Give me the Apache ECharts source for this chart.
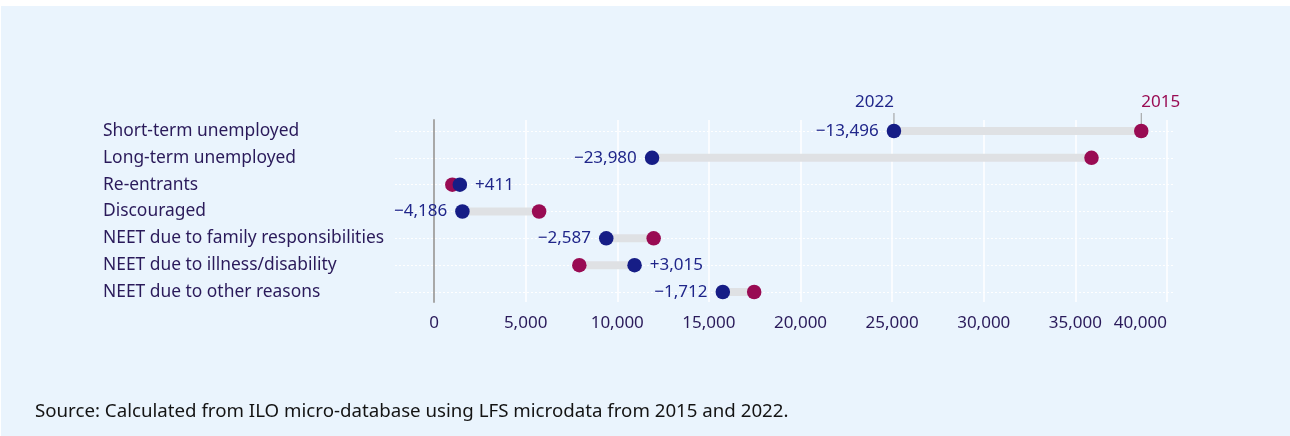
<!DOCTYPE html>
<html>
<head>
<meta charset="utf-8">
<script src="https://cdn.jsdelivr.net/npm/echarts@6/dist/echarts.min.js"></script>
<style>
html,body{margin:0;padding:0;background:#ffffff;}
#bg{position:absolute;left:1px;top:6px;right:0;bottom:0;background:#EAF4FD;}
#chart{position:absolute;left:0;top:0;width:1290px;height:436px;}
</style>
</head>
<body>
<div id="bg"></div>
<div id="chart"></div>
<script>
// ---- data ----
const categories = [
  "Short-term unemployed",
  "Long-term unemployed",
  "Re-entrants",
  "Discouraged",
  "NEET due to family responsibilities",
  "NEET due to illness/disability",
  "NEET due to other reasons"
];
const values2015 = [38596, 35880, 1000, 5736, 11987, 7930, 17472];
const values2022 = [25100, 11900, 1411, 1550, 9400, 10945, 15760];
const xTickValues = [0, 5000, 10000, 15000, 20000, 25000, 30000, 35000, 40000];
const yearLabels = ["2022", "2015"];
const sourceNote = "Source: Calculated from ILO micro-database using LFS microdata from 2015 and 2022.";

// ---- style ----
const NAVY = "#161d86";
const CRIMSON = "#990b53";
const LABEL_NAVY = "#20268a";
const TEXT_PURPLE = "#2a1a5a";
const FONT = "'Noto Sans', sans-serif";

function fmt(n) {
  const s = Math.abs(n).toLocaleString("en-US");
  return (n < 0 ? "\u2212" : "+") + s;
}

const chart = echarts.init(document.getElementById("chart"), null, {renderer: "canvas"});

const dots2022 = values2022.map((v, i) => {
  const d = v - values2015[i];
  return {
    value: [v, i],
    label: {position: d < 0 ? "left" : "right"}
  };
});
const dots2015 = values2015.map((v, i) => [v, i]);
const connectors = categories.map((c, i) => [i, values2015[i], values2022[i]]);

const option = {
  backgroundColor: "transparent",
  animation: false,
  textStyle: {fontFamily: FONT},
  grid: [
    {left: 395, right: 115, top: 131, height: 161, containLabel: false},
    {left: 434, right: 123, top: 120, height: 182, containLabel: false}
  ],
  xAxis: [
    {
      gridIndex: 0, type: "value", min: -2128, max: 40437,
      axisLine: {show: false}, axisTick: {show: false},
      axisLabel: {show: false}, splitLine: {show: false}
    },
    {
      gridIndex: 1, type: "value", min: xTickValues[0], max: xTickValues[xTickValues.length - 1],
      interval: xTickValues[1] - xTickValues[0],
      axisLine: {show: false}, axisTick: {show: false},
      splitLine: {show: true, lineStyle: {color: "#ffffff", width: 1.5}},
      axisLabel: {
        show: true, margin: 13, color: TEXT_PURPLE, fontSize: 17, fontFamily: FONT,
        alignMaxLabel: "right",
        formatter: v => v.toLocaleString("en-US")
      }
    }
  ],
  yAxis: [
    {
      gridIndex: 0, type: "category", data: categories, inverse: true, boundaryGap: false,
      axisLine: {show: false}, axisTick: {show: false},
      axisLabel: {
        interval: 0, align: "left", margin: 292, color: TEXT_PURPLE,
        fontSize: 17.4, fontFamily: FONT
      },
      splitLine: {show: true, interval: 0, lineStyle: {color: "#ffffff", type: [2, 2], width: 1}}
    },
    {
      gridIndex: 1, type: "value", min: 0, max: 1,
      axisLine: {show: true, lineStyle: {color: "#a8a8a8", width: 2}},
      axisTick: {show: false}, axisLabel: {show: false}, splitLine: {show: false}
    }
  ],
  series: [
    {
      type: "custom", xAxisIndex: 0, yAxisIndex: 0, z: 2,
      encode: {x: [1, 2], y: 0},
      data: connectors,
      renderItem: function (params, api) {
        const p1 = api.coord([api.value(1), api.value(0)]);
        const p2 = api.coord([api.value(2), api.value(0)]);
        return {
          type: "line",
          shape: {x1: p1[0], y1: p1[1], x2: p2[0], y2: p2[1]},
          style: {stroke: "#dfe1e4", lineWidth: 8, lineCap: "butt"}
        };
      }
    },
    {
      name: "2022tick", type: "scatter", xAxisIndex: 0, yAxisIndex: 0, z: 3,
      symbol: "rect", symbolSize: [1, 12], symbolOffset: [0, -12],
      itemStyle: {color: "#9a9a9a", opacity: 1},
      data: [[values2022[0], 0]],
      label: {
        show: true, position: "top", align: "right", distance: 2,
        color: LABEL_NAVY, fontSize: 17, fontFamily: FONT,
        formatter: () => yearLabels[0]
      },
      silent: true
    },
    {
      name: "2015tick", type: "scatter", xAxisIndex: 0, yAxisIndex: 0, z: 3,
      symbol: "rect", symbolSize: [1, 12], symbolOffset: [0, -12],
      itemStyle: {color: "#9a9a9a", opacity: 1},
      data: [[values2015[0], 0]],
      label: {
        show: true, position: "top", align: "left", distance: 2,
        color: CRIMSON, fontSize: 17, fontFamily: FONT,
        formatter: () => yearLabels[1]
      },
      silent: true
    },
    {
      name: "2015", type: "scatter", xAxisIndex: 0, yAxisIndex: 0, z: 4,
      symbol: "circle", symbolSize: 14.5,
      itemStyle: {color: CRIMSON, opacity: 1},
      data: dots2015
    },
    {
      name: "2022", type: "scatter", xAxisIndex: 0, yAxisIndex: 0, z: 5,
      symbol: "circle", symbolSize: 14.5,
      itemStyle: {color: NAVY, opacity: 1},
      data: dots2022,
      label: {
        show: true, distance: 8, color: LABEL_NAVY, fontSize: 17, fontFamily: FONT,
        formatter: p => fmt(values2022[p.dataIndex] - values2015[p.dataIndex])
      }
    }
  ],
  graphic: [
    {
      type: "text", left: 35, top: 402,
      style: {text: sourceNote, fill: "#141414", fontSize: 18.7, fontFamily: FONT}
    }
  ]
};
chart.setOption(option);
</script>
</body>
</html>
